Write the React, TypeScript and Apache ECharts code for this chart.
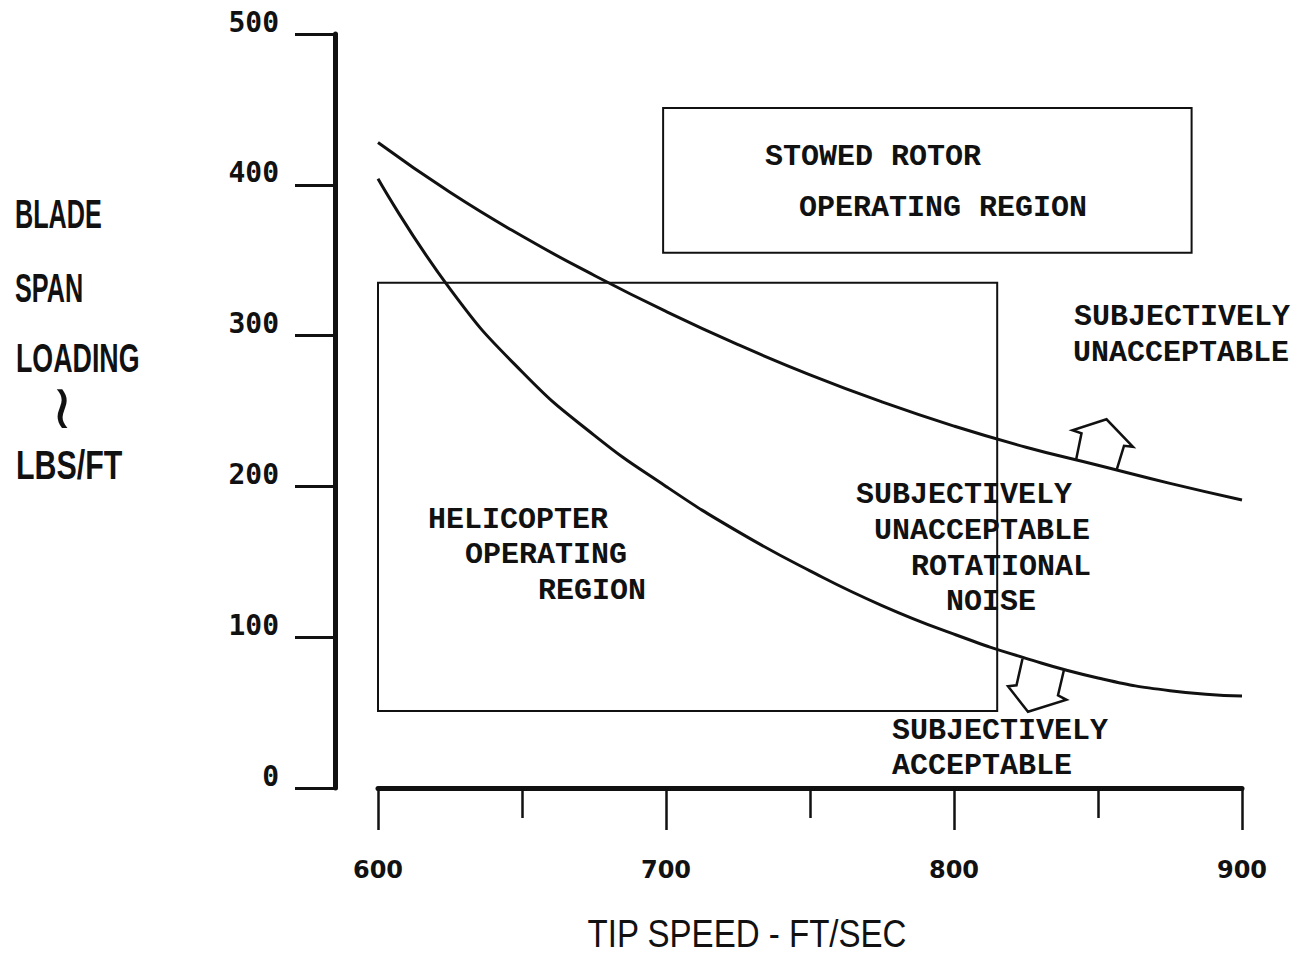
import React, { useEffect, useRef } from 'react';
import * as echarts from 'echarts';

// ---- data ----
const TIP_SPEED = [600, 625, 650, 675, 700, 725, 750, 775, 800, 825, 850, 875, 900];
const UPPER_LIMIT = [428, 395, 366, 340, 316, 294, 274, 256, 240, 226, 214, 202, 191];
const LOWER_LIMIT = [404, 331, 276, 234, 200, 170, 144, 121, 102, 86, 73, 64.5, 61];
const X_RANGE = [600, 900];
const Y_RANGE = [0, 500];
const HELICOPTER_REGION = [[599, 335], [815, 51]];
const STOWED_ROTOR_REGION = [[699, 451], [882.5, 355]];
const UP_ARROW_AT = [850, 214];
const DOWN_ARROW_AT = [825, 86];
const Y_TITLE = ['BLADE', 'SPAN', 'LOADING', 'LBS/FT'];
const X_TITLE = 'TIP SPEED - FT/SEC';

const INK = '#111111';
const MONO = "'Liberation Mono', 'Courier New', monospace";
const LETTER = "'Liberation Sans', Arial, sans-serif";

// arrow outlines, pixel offsets from their anchor on the curve
const UP_SHAPE = [[-22, -5], [-16.5, -32], [-25.5, -35], [8.5, -46], [35, -18.5], [26, -19.5], [18.5, 5]];
const DOWN_SHAPE = [[-3.5, 0.5], [-9.5, 27], [-18, 28], [2, 53.5], [40.5, 41.5], [32, 37], [38, 11.5]];

const arrowSeries = (at: number[], shape: number[][]) => ({
  type: 'custom',
  data: [at],
  clip: false,
  silent: true,
  z: 5,
  renderItem: (_p: any, api: any) => {
    const c = api.coord([api.value(0), api.value(1)]);
    return {
      type: 'polyline',
      shape: { points: shape.map((o) => [c[0] + o[0], c[1] + o[1]]) },
      style: { stroke: INK, fill: 'none', lineWidth: 2.5 },
    };
  },
});

const monoText = (text: string, x: number, y: number) => ({
  type: 'text',
  x,
  y,
  z: 10,
  style: { text, font: `bold 30px ${MONO}`, fill: INK, align: 'left', verticalAlign: 'middle' },
});

export default function App() {
  const ref = useRef<HTMLDivElement>(null);
  useEffect(() => {
    if (!ref.current) return;
    const chart = echarts.init(ref.current, undefined, { renderer: 'svg' });
    const yTitlePos = [
      [15, 214, 0.63],
      [15, 288, 0.63],
      [16, 358, 0.67],
      [16, 465, 0.76],
    ];
    chart.setOption({
      animation: false,
      backgroundColor: '#ffffff',
      grid: { left: 378, right: 54, top: 34, bottom: 177, containLabel: false },
      xAxis: {
        type: 'value',
        min: X_RANGE[0],
        max: X_RANGE[1],
        interval: 100,
        axisLine: { show: true, lineStyle: { color: INK, width: 5 } },
        axisTick: { show: true, length: 42, lineStyle: { color: INK, width: 2.5 } },
        minorTick: { show: true, splitNumber: 2, length: 30, lineStyle: { color: INK, width: 2.5 } },
        splitLine: { show: false },
        axisLabel: {
          color: INK,
          fontFamily: "'DejaVu Sans', sans-serif",
          fontWeight: 'bold',
          fontSize: 24,
          margin: 70,
        },
      },
      yAxis: {
        type: 'value',
        min: Y_RANGE[0],
        max: Y_RANGE[1],
        interval: 100,
        offset: 43,
        axisLine: { show: true, lineStyle: { color: INK, width: 5 } },
        axisTick: { show: true, length: 40, lineStyle: { color: INK, width: 3 } },
        splitLine: { show: false },
        axisLabel: {
          color: INK,
          fontFamily: "'DejaVu Sans Mono', monospace",
          fontWeight: 'bold',
          fontSize: 28,
          margin: 56,
          verticalAlign: 'bottom',
          lineHeight: 24,
        },
      },
      series: [
        {
          type: 'line',
          name: 'upper',
          data: TIP_SPEED.map((x, i) => [x, UPPER_LIMIT[i]]),
          smooth: 0.5,
          showSymbol: false,
          lineStyle: { color: INK, width: 3 },
          z: 4,
          markArea: {
            silent: true,
            itemStyle: { color: 'rgba(0,0,0,0)', borderColor: INK, borderWidth: 2 },
            data: [
              [{ coord: HELICOPTER_REGION[0] }, { coord: HELICOPTER_REGION[1] }],
              [{ coord: STOWED_ROTOR_REGION[0] }, { coord: STOWED_ROTOR_REGION[1] }],
            ],
          },
        },
        {
          type: 'line',
          name: 'lower',
          data: TIP_SPEED.map((x, i) => [x, LOWER_LIMIT[i]]),
          smooth: 0.5,
          showSymbol: false,
          lineStyle: { color: INK, width: 3 },
          z: 4,
        },
        arrowSeries(UP_ARROW_AT, UP_SHAPE),
        arrowSeries(DOWN_ARROW_AT, DOWN_SHAPE),
      ],
      graphic: [
        ...Y_TITLE.map((t, i) => ({
          type: 'text',
          x: yTitlePos[i][0],
          y: yTitlePos[i][1],
          scaleX: yTitlePos[i][2],
          style: { text: t, font: `bold 40px ${LETTER}`, fill: INK, align: 'left', verticalAlign: 'middle' },
        })),
        {
          type: 'text',
          x: 62,
          y: 406,
          style: { text: '≀', font: `62px 'DejaVu Sans', sans-serif`, fill: INK, align: 'center', verticalAlign: 'middle' },
        },
        {
          type: 'text',
          x: 747,
          y: 934,
          scaleX: 0.87,
          style: { text: X_TITLE, font: `38px ${LETTER}`, fill: INK, align: 'center', verticalAlign: 'middle' },
        },
        monoText('STOWED ROTOR', 765, 157),
        monoText('OPERATING REGION', 799, 208),
        monoText('SUBJECTIVELY', 1074, 317),
        monoText('UNACCEPTABLE', 1073, 353),
        monoText('HELICOPTER', 428, 520),
        monoText('OPERATING', 465, 555),
        monoText('REGION', 538, 591),
        monoText('SUBJECTIVELY', 856, 495),
        monoText('UNACCEPTABLE', 874, 531),
        monoText('ROTATIONAL', 911, 567),
        monoText('NOISE', 946, 602),
        monoText('SUBJECTIVELY', 892, 731),
        monoText('ACCEPTABLE', 892, 766),
      ],
    });
    return () => chart.dispose();
  }, []);
  return <div ref={ref} style={{ position: 'fixed', left: 0, top: 0, width: 1296, height: 965 }} />;
}
